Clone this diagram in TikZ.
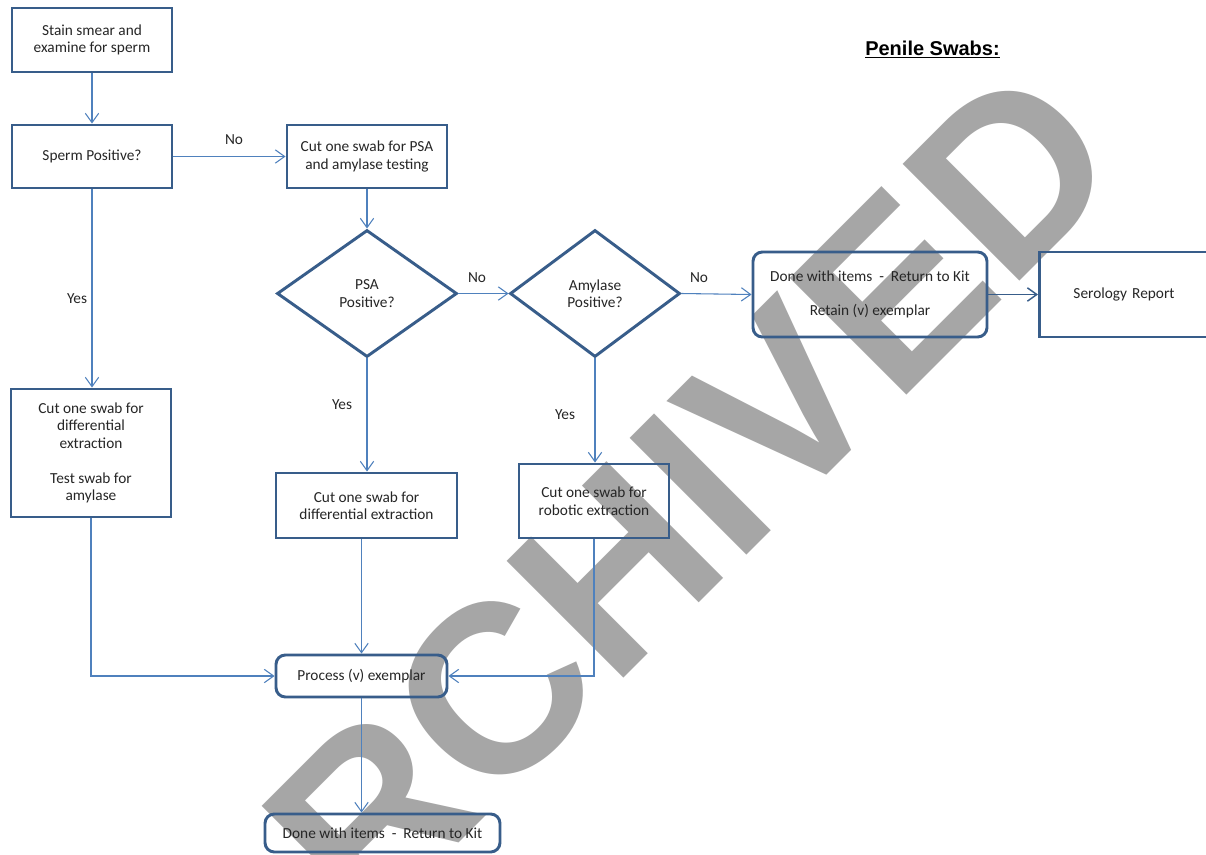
\documentclass[tikz,border=0pt]{standalone}
\usepackage{fontspec}
\setmainfont{Carlito}
\newfontfamily\arialfont{Liberation Sans}
\usetikzlibrary{arrows.meta,shapes.geometric}
\definecolor{boxblue}{HTML}{385D8A}
\definecolor{linkblue}{HTML}{4F81BD}
\definecolor{wmgray}{HTML}{A6A6A6}
\definecolor{txt}{HTML}{262626}
\tikzset{
  box/.style={draw=boxblue, line width=2.2pt, align=center, text=txt, inner sep=0pt},
  rbox/.style={box, rounded corners=7pt},
  dec/.style={draw=boxblue, line width=2.2pt, diamond, align=center, text=txt, inner sep=0pt},
  link/.style={draw=linkblue, line width=0.8pt, -{Straight Barb[length=7pt,width=10pt]}},
  darklink/.style={draw=boxblue, line width=1.1pt, -{Straight Barb[length=7pt,width=10pt]}},
  lbl/.style={text=txt, inner sep=0pt},
}
\begin{document}
\begin{tikzpicture}[x=0.75pt,y=-0.75pt,font=\fontsize{11.5pt}{13.1pt}\selectfont]
\useasboundingbox (0,0) rectangle (1206,854);
\clip (0,0) rectangle (1206,854);
\fill[white] (0,0) rectangle (1206,854);
% watermark
\node[rotate=45, text=wmgray, inner sep=0pt, font=\arialfont\bfseries\fontsize{180pt}{180pt}\selectfont] (wm) at (630,555) {ARCHIVED};
% title
\node[anchor=base, text=black, inner sep=0pt, font=\arialfont\bfseries\fontsize{15pt}{18pt}\selectfont] (title) at (932.5,55) {\underline{Penile Swabs:}};
% nodes
\node[box, minimum width=120pt, minimum height=48pt] (stain) at (92,40) {Stain smear and\\examine for sperm};
\node[box, minimum width=120pt, minimum height=47.25pt] (sperm) at (92,156.5) {Sperm Positive?};
\node[box, minimum width=120pt, minimum height=47.25pt] (cutpsa) at (367,156.5) {Cut one swab for PSA\\and amylase testing};
\node[dec, minimum width=135pt, minimum height=95.25pt] (psa) at (367,293.5) {PSA\\Positive?};
\node[dec, minimum width=127.5pt, minimum height=95.25pt] (amy) at (595,293.5) {Amylase\\Positive?};
\node[rbox, minimum width=175.5pt, minimum height=63.75pt] (doneR) at (870,294.5) {Done with items\ \ -\ \ Return to Kit\\[13pt]Retain (v) exemplar};
\node[box, anchor=west, minimum height=63.75pt, inner xsep=25.5pt, text width=100pt, align=left] (sero) at (1038,294.5) {Serology Report};
\node[box, minimum width=120pt, minimum height=96pt] (leftbox) at (91,453) {Cut one swab for\\differential\\extraction\\[13pt]Test swab for\\amylase};
\node[box, minimum width=135.75pt, minimum height=48.75pt] (diff) at (366.5,505.5) {Cut one swab for\\differential extraction};
\node[box, minimum width=112.5pt, minimum height=55.5pt] (robot) at (594,501) {Cut one swab for\\robotic extraction};
\node[rbox, minimum width=128.25pt, minimum height=31.5pt] (process) at (361.5,676) {Process (v) exemplar};
\node[rbox, minimum width=176.25pt, minimum height=28.5pt] (doneB) at (382.5,833) {Done with items\ \ -\ \ Return to Kit};
% labels
\node[lbl] (no1) at (234,140) {No};
\node[lbl] (no2) at (477,278) {No};
\node[lbl] (no3) at (699,278) {No};
\node[lbl] (yes1) at (77,299) {Yes};
\node[lbl] (yes2) at (342,405) {Yes};
\node[lbl] (yes3) at (565,415) {Yes};
% connectors
\draw[link] (stain.south) -- (sperm.north);
\draw[link] (sperm.east) -- (cutpsa.west);
\draw[link] (cutpsa.south) -- (psa.north);
\draw[link] (psa.east) -- (amy.west);
\draw[link] (amy.east) -- (doneR.west);
\draw[darklink] (doneR.east) -- (sero.west);
\draw[link] (sperm.south) -- (sperm.south |- leftbox.north);
\draw[link] (psa.south) -- (psa.south |- diff.north);
\draw[link] (amy.south) -- (amy.south |- robot.north);
\draw[link] (leftbox.south) |- (process.west);
\draw[link] (process.north |- diff.south) -- (process.north);
\draw[link] (robot.south) |- (process.east);
\draw[link] (process.south) -- (process.south |- doneB.north);
\end{tikzpicture}
\end{document}
